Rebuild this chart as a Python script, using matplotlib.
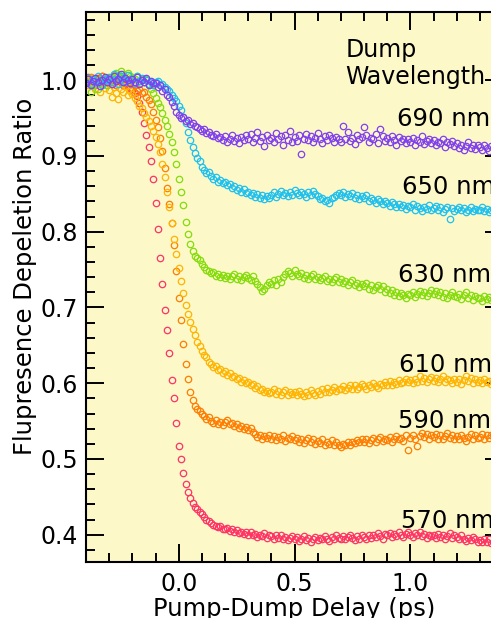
import numpy as np
import matplotlib.pyplot as plt

# pump-dump delay grid (ps), one sample every 10 fs
delay = np.round(np.arange(-0.40, 1.395, 0.01), 2)

# depletion ratio x1000, rows of 10 samples (0.1 ps each)
ratio_570 = [
    999, 1004, 996, 1001, 994, 1003, 998, 1005, 997, 1000,
    996, 1002, 998, 994, 1001, 997, 993, 999, 995, 990,
    987, 983, 979, 970, 958, 944, 928, 912, 893, 870,
    838, 804, 765, 731, 697, 670, 640, 604, 580, 548,
    517, 500, 482, 467, 456, 448, 442, 437, 434, 430,
    427, 424, 420, 418, 416, 413, 412, 410, 411, 408,
    407, 409, 405, 407, 403, 406, 402, 404, 401, 403,
    400, 403, 399, 401, 397, 400, 398, 402, 396, 399,
    398, 395, 399, 396, 400, 394, 397, 393, 396, 398,
    394, 397, 392, 395, 398, 393, 396, 391, 395, 397,
    393, 396, 394, 398, 395, 392, 397, 394, 399, 396,
    395, 398, 394, 397, 400, 396, 393, 398, 395, 399,
    397, 394, 399, 396, 400, 397, 402, 398, 395, 401,
    399, 402, 397, 401, 398, 403, 400, 397, 401, 404,
    400, 397, 402, 399, 403, 398, 401, 396, 400, 398,
    399, 396, 401, 397, 400, 395, 398, 402, 396, 399,
    397, 394, 399, 395, 392, 396, 393, 397, 394, 391,
    393, 390, 395, 391, 394, 389, 392, 395, 390, 393,
]
ratio_590 = [
    1001, 996, 1004, 998, 993, 1002, 997, 1005, 999, 994,
    1003, 997, 1001, 994, 999, 1004, 996, 1000, 993, 997,
    990, 994, 986, 989, 983, 985, 978, 974, 968, 958,
    948, 938, 924, 907, 884, 858, 836, 812, 782, 748,
    712, 684, 652, 625, 606, 588, 578, 570, 566, 563,
    560, 557, 553, 555, 550, 548, 551, 546, 549, 545,
    549, 551, 546, 548, 543, 546, 541, 544, 540, 542,
    538, 541, 536, 533, 529, 531, 527, 530, 528, 532,
    527, 530, 525, 529, 526, 531, 524, 528, 526, 530,
    525, 528, 523, 527, 521, 525, 528, 522, 526, 520,
    524, 521, 526, 519, 523, 520, 525, 518, 522, 519,
    516, 520, 518, 522, 519, 523, 521, 525, 522, 526,
    523, 527, 521, 525, 528, 522, 526, 529, 524, 527,
    525, 529, 523, 527, 530, 526, 528, 524, 531, 512,
    528, 532, 526, 517, 530, 534, 529, 533, 527, 531,
    529, 533, 527, 531, 526, 530, 534, 528, 532, 527,
    530, 526, 532, 528, 524, 529, 533, 527, 531, 528,
    529, 533, 527, 531, 528, 532, 526, 530, 534, 529,
]
ratio_610 = [
    998, 993, 1003, 996, 989, 999, 985, 994, 990, 997,
    987, 978, 991, 983, 975, 988, 984, 992, 980, 986,
    982, 977, 973, 966, 963, 957, 952, 946, 940, 933,
    925, 916, 905, 890, 872, 853, 833, 812, 790, 770,
    752, 735, 719, 703, 691, 681, 671, 663, 655, 649,
    642, 637, 634, 628, 626, 621, 623, 617, 619, 614,
    616, 611, 613, 608, 610, 605, 607, 602, 604, 600,
    602, 597, 599, 594, 596, 591, 593, 588, 590, 587,
    589, 592, 586, 590, 584, 588, 591, 585, 589, 586,
    588, 584, 590, 586, 583, 589, 585, 591, 587, 584,
    590, 586, 592, 588, 594, 589, 591, 595, 590, 593,
    592, 596, 591, 594, 598, 593, 597, 592, 595, 599,
    596, 593, 598, 595, 600, 596, 594, 599, 597, 601,
    598, 603, 597, 601, 599, 604, 600, 602, 606, 601,
    604, 600, 606, 602, 609, 603, 607, 601, 605, 608,
    603, 607, 601, 605, 609, 602, 606, 604, 600, 606,
    602, 605, 599, 604, 610, 603, 607, 600, 605, 602,
    604, 600, 606, 601, 603, 599, 605, 602, 598, 603,
]
ratio_630 = [
    997, 1002, 985, 993, 999, 988, 1001, 996, 1003, 994,
    999, 1004, 1007, 1010, 1005, 1012, 1008, 1003, 1009, 1006,
    1004, 1001, 1006, 999, 1002, 997, 1001, 994, 989, 983,
    977, 970, 964, 957, 948, 940, 929, 918, 905, 889,
    870, 852, 835, 813, 797, 784, 774, 768, 765, 762,
    757, 754, 750, 748, 745, 747, 742, 744, 740, 743,
    739, 742, 737, 741, 744, 738, 741, 736, 740, 743,
    739, 736, 741, 735, 731, 727, 722, 725, 729, 734,
    731, 736, 729, 738, 733, 740, 744, 748, 745, 742,
    749, 744, 741, 746, 739, 743, 737, 741, 744, 738,
    740, 736, 739, 742, 735, 738, 733, 737, 740, 734,
    737, 732, 735, 730, 733, 736, 729, 732, 727, 731,
    728, 732, 725, 729, 723, 727, 730, 724, 728, 721,
    725, 719, 723, 717, 721, 715, 719, 716, 712, 718,
    716, 720, 714, 718, 722, 717, 721, 715, 719, 723,
    718, 722, 716, 720, 714, 719, 712, 717, 721, 715,
    714, 718, 711, 716, 720, 713, 717, 710, 715, 712,
    713, 709, 715, 711, 714, 710, 716, 712, 709, 713,
]
ratio_650 = [
    998, 1003, 995, 1001, 997, 1005, 999, 994, 1002, 1000,
    1004, 997, 1008, 1001, 995, 1006, 1003, 998, 1007, 1000,
    1002, 996, 1005, 999, 1003, 997, 1000, 995, 998, 994,
    997, 999, 993, 995, 991, 988, 986, 981, 977, 972,
    966, 960, 951, 944, 932, 921, 912, 904, 897, 893,
    886, 882, 877, 879, 873, 870, 872, 866, 868, 864,
    866, 861, 863, 858, 860, 855, 858, 853, 856, 851,
    853, 849, 851, 846, 850, 845, 848, 843, 847, 844,
    849, 852, 846, 850, 854, 848, 851, 847, 853, 849,
    855, 851, 848, 853, 850, 846, 852, 849, 854, 850,
    847, 843, 845, 840, 842, 838, 844, 846, 849, 851,
    848, 852, 846, 850, 847, 851, 845, 849, 843, 847,
    844, 848, 841, 845, 842, 838, 843, 840, 836, 841,
    838, 834, 839, 836, 832, 837, 833, 835, 830, 834,
    832, 836, 829, 834, 831, 827, 833, 830, 835, 828,
    831, 834, 829, 832, 826, 830, 833, 817, 831, 827,
    830, 833, 828, 831, 826, 829, 832, 827, 830, 828,
    829, 832, 827, 830, 826, 829, 831, 827, 830, 828,
]
ratio_690 = [
    996, 1001, 994, 999, 1003, 997, 992, 1000, 1004, 998,
    1002, 995, 1006, 999, 1001, 1008, 997, 1003, 1000, 996,
    1001, 998, 1004, 995, 1000, 997, 1003, 993, 999, 996,
    996, 991, 993, 986, 988, 981, 978, 971, 966, 958,
    954, 950, 951, 946, 947, 942, 944, 940, 938, 936,
    933, 935, 930, 932, 928, 926, 929, 924, 925, 921,
    926, 919, 923, 928, 920, 924, 917, 925, 921, 927,
    922, 929, 918, 924, 931, 920, 925, 913, 927, 921,
    924, 918, 930, 922, 926, 915, 928, 921, 933, 919,
    925, 920, 927, 902, 923, 929, 921, 926, 918, 924,
    930, 922, 917, 926, 921, 928, 924, 919, 925, 922,
    918, 940, 923, 931, 920, 924, 916, 927, 922, 925,
    938, 927, 919, 924, 922, 929, 917, 936, 926, 920,
    924, 918, 926, 921, 914, 925, 920, 923, 917, 922,
    919, 924, 915, 921, 918, 926, 916, 920, 922, 917,
    921, 914, 919, 917, 923, 912, 918, 916, 920, 913,
    917, 911, 915, 908, 913, 918, 910, 914, 909, 915,
    912, 908, 914, 910, 907, 913, 909, 911, 906, 912,
]

wavelengths = ['570 nm', '590 nm', '610 nm', '630 nm', '650 nm', '690 nm']
series = [ratio_570, ratio_590, ratio_610, ratio_630, ratio_650, ratio_690]
colors = ['#ff3366', '#ff7d00', '#ffb400', '#84dc0a', '#1ec0f0', '#8040f0']
# label anchors (delay, ratio) for each wavelength tag
label_pos = [(0.96, 0.409), (0.948, 0.541), (0.953, 0.615),
             (0.948, 0.733), (0.964, 0.850), (0.944, 0.940)]

if __name__ == '__main__':
    plt.rcParams['font.family'] = 'DejaVu Sans'
    plt.rcParams['font.size'] = 17

    fig = plt.figure(figsize=(4.91, 6.18), dpi=100)
    ax = fig.add_axes([0.1752, 0.0906, 0.8493, 0.89])
    ax.set_facecolor('#fcf8c8')

    for vals, c in zip(series, colors):
        ax.plot(delay, np.array(vals) / 1000, 'o', ms=4.6, mfc='none',
                mec=c, mew=0.9, ls='none')

    for name, (lx, ly) in zip(wavelengths, label_pos):
        ax.text(lx, ly, name, fontsize=17.5, ha='left', va='baseline')
    ax.text(0.72, 1.030, 'Dump', fontsize=17, ha='left', va='baseline')
    ax.text(0.72, 0.9954, 'Wavelength', fontsize=17, ha='left', va='baseline')

    ax.set_xlim(-0.4, 1.4)
    ax.set_ylim(0.364, 1.09)
    ax.set_xticks([0.0, 0.5, 1.0])
    ax.set_xticks(np.arange(-0.4, 1.41, 0.1), minor=True)
    ax.set_yticks(np.arange(0.4, 1.01, 0.1))
    ax.set_yticks(np.arange(0.38, 1.09, 0.02), minor=True)
    ax.tick_params(which='both', direction='in', top=True, right=True, width=1.4)
    ax.tick_params(which='major', length=13, labelsize=17)
    ax.tick_params(which='minor', length=6.5)
    ax.tick_params(axis='y', pad=6)
    ax.tick_params(axis='x', pad=7)
    for s in ax.spines.values():
        s.set_linewidth(1.5)

    ax.set_xlabel('Pump-Dump Delay (ps)', fontsize=17.5, labelpad=1)
    ax.set_ylabel('Flupresence Depeletion Ratio', fontsize=17.5)
    ax.yaxis.set_label_coords(-0.118, 0.52)

    plt.savefig('out.png', dpi=100)
    plt.close()
